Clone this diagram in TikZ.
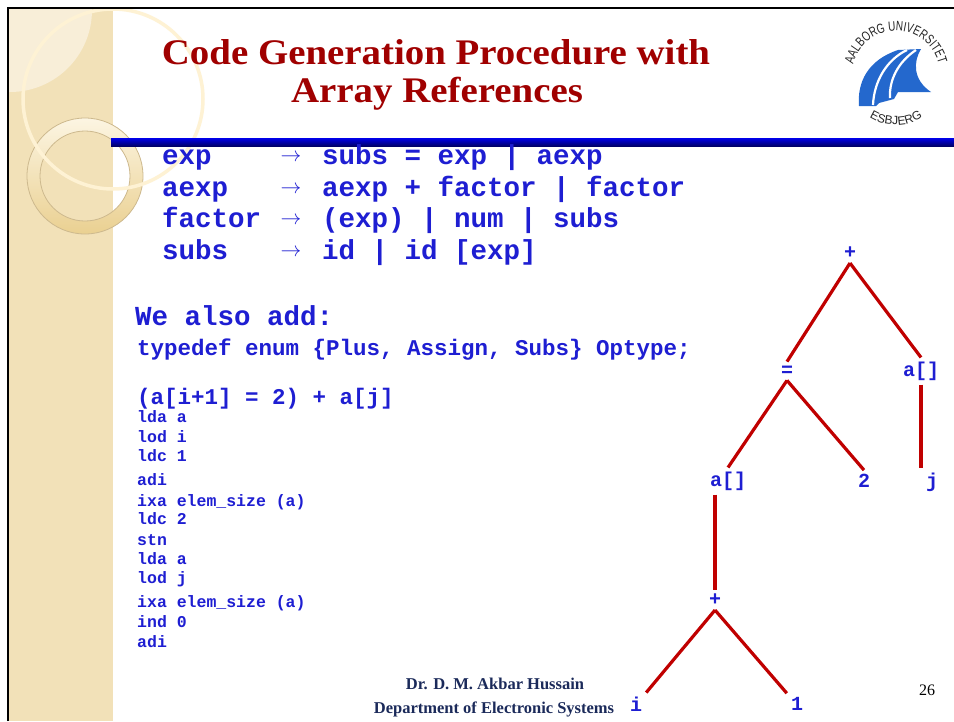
\documentclass[tikz,border=0pt]{standalone}
\usepackage{fontspec}
\setmainfont{Liberation Serif}
\setmonofont{Liberation Mono}
\newfontfamily\logofont[FakeStretch=0.74]{Liberation Sans}
\newfontfamily\logowide{Liberation Sans}
\usetikzlibrary{decorations.text}

\definecolor{codeblue}{RGB}{30,30,210}
\definecolor{treered}{RGB}{192,0,0}
\definecolor{titlered}{RGB}{160,0,0}
\definecolor{footnavy}{RGB}{27,42,90}
\definecolor{striptan}{RGB}{242,225,184}
\definecolor{patchtan}{RGB}{248,238,216}
\definecolor{ringlight}{RGB}{252,245,226}
\definecolor{ringdark}{RGB}{234,208,145}
\definecolor{ringedge}{RGB}{205,185,142}
\definecolor{circlecream}{RGB}{254,242,212}
\definecolor{logoblue}{RGB}{36,104,205}

\tikzset{
  grammar/.style={font=\ttfamily\bfseries\fontsize{27.5}{27.5}\selectfont, text=codeblue, anchor=base west, inner sep=0pt},
  arrowsym/.style={font=\fontsize{20}{20}\selectfont, text=codeblue, inner sep=0pt},
  midcode/.style={font=\ttfamily\bfseries\fontsize{22.5}{22.5}\selectfont, text=codeblue, anchor=base west, inner sep=0pt},
  smallcode/.style={font=\ttfamily\bfseries\fontsize{16.5}{16.5}\selectfont, text=codeblue, anchor=base west, inner sep=0pt},
  treelab/.style={font=\ttfamily\bfseries\fontsize{20}{20}\selectfont, text=codeblue, inner sep=4pt},
  treeline/.style={draw=treered, line width=3.2pt},
  titletext/.style={font=\bfseries\fontsize{36}{36}\selectfont, text=titlered},
  foottext/.style={font=\bfseries\fontsize{16.5}{16.5}\selectfont, text=footnavy},
}

\begin{document}
\begin{tikzpicture}[x=1pt, y=-1pt]
\useasboundingbox (0,0) rectangle (954,721);
\fill[white] (0,0) rectangle (954,721);

% left decorative strip
\fill[striptan] (9,9) rectangle (113,721);
\begin{scope}
  \clip (9,9) rectangle (113,721);
  \fill[patchtan] (10,10) circle (82);
\end{scope}

% ring
\shade[even odd rule, shading angle=45, top color=ringlight, bottom color=ringdark]
  (85,176) circle (58) (85,176) circle (45);
\draw[ringedge, line width=0.8pt] (85,176) circle (58);
\draw[ringedge, line width=0.8pt] (85,176) circle (45);

% large pale circle
\draw[circlecream, line width=3.5pt] (113,99) circle (90);

% frame
\draw[black, line width=2.6pt] (8,721) -- (8,8) -- (954,8);

% rule under the title
\shade[top color={rgb,255:red,0;green,0;blue,235}, bottom color={rgb,255:red,0;green,0;blue,105}]
  (111,138) rectangle (954,146);

% title
\node[titletext] (title1) at (436,52) {\scalebox{1.08}[1]{Code Generation Procedure with}};
\node[titletext] (title2) at (437,94) {\scalebox{1.08}[1]{Array References}};

% university logo
\begin{scope}[shift={(896,75)}, yscale=-1]
  \path[decorate, decoration={text along path, text align=center,
        text={|\logofont\fontsize{13.5}{13.5}\selectfont\color{black!85}|AALBORG UNIVERSITET}}]
    (170:44) arc (170:10:44);
  \path[decorate, decoration={text along path, text align=center,
        text={|\logowide\fontsize{12}{12}\selectfont\color{black!85}|ESBJERG}}]
    (232:50) arc (232:308:50);
\end{scope}
\fill[logoblue] (859,106) .. controls (857,82) and (868,60) .. (898,50)
  -- (921,49) .. controls (913,62) and (913,80) .. (931,92)
  -- (898,92) -- (894,99) -- (879,103) -- (876,106) -- cycle;
\draw[white, line width=2.2pt] (907,50) .. controls (886,60) and (874,82) .. (873,105);
\draw[white, line width=2.2pt] (916,50) .. controls (898,62) and (889,80) .. (890,98);

% grammar
\node[grammar] (g1l) at (162,164.3) {exp};
\node[grammar] (g2l) at (162,196.3) {aexp};
\node[grammar] (g3l) at (162,227.3) {factor};
\node[grammar] (g4l) at (162,259.3) {subs};
\node[arrowsym] (g1a) at (291,158) {$\rightarrow$};
\node[arrowsym] (g2a) at (291,190) {$\rightarrow$};
\node[arrowsym] (g3a) at (291,221) {$\rightarrow$};
\node[arrowsym] (g4a) at (291,253) {$\rightarrow$};
\node[grammar] (g1r) at (322,164.3) {subs = exp | aexp};
\node[grammar] (g2r) at (322,196.3) {aexp + factor | factor};
\node[grammar] (g3r) at (322,227.3) {(exp) | num | subs};
\node[grammar] (g4r) at (322,259.3) {id | id [exp]};

% additions
\node[grammar] (add) at (135,325.3) {We also add:};
\node[midcode] (tdef) at (137,355) {typedef enum \{Plus, Assign, Subs\} Optype;};
\node[midcode] (expr) at (137,404) {(a[i+1] = 2) + a[j]};

% generated code
\node[smallcode] (c1) at (137,422.4) {lda a};
\node[smallcode] (c2) at (137,442.4) {lod i};
\node[smallcode] (c3) at (137,461.4) {ldc 1};
\node[smallcode] (c4) at (137,485.4) {adi};
\node[smallcode] (c5) at (137,506.4) {ixa elem\_size (a)};
\node[smallcode] (c6) at (137,524.4) {ldc 2};
\node[smallcode] (c7) at (137,545.4) {stn};
\node[smallcode] (c8) at (137,564.4) {lda a};
\node[smallcode] (c9) at (137,583.4) {lod j};
\node[smallcode] (c10) at (137,607.4) {ixa elem\_size (a)};
\node[smallcode] (c11) at (137,627.4) {ind 0};
\node[smallcode] (c12) at (137,647.4) {adi};

% syntax tree
\node[treelab] (p1) at (850,253) {+};
\node[treelab] (eq) at (787,371) {=};
\node[treelab] (ar) at (921,371) {a[]};
\node[treelab] (al) at (728,481) {a[]};
\node[treelab] (two) at (864,481) {2};
\node[treelab] (jj) at (932,482) {j};
\node[treelab] (p2) at (715,600) {+};
\node[treelab] (ii) at (636,704) {i};
\node[treelab] (one) at (797,704) {1};

\draw[treeline] (p1.south) -- (eq.north);
\draw[treeline] (p1.south) -- (ar.north);
\draw[treeline] (eq.south) -- (al.north);
\draw[treeline] (eq.south) -- (two.north);
\draw[treeline, line width=4pt] (ar.south) -- (ar.south |- jj.north);
\draw[treeline, line width=4pt] (p2.north |- al.south) -- (p2.north);
\draw[treeline] (p2.south) -- (ii.north east);
\draw[treeline] (p2.south) -- (one.north west);

% footer
\node[foottext] (author) at (495,684) {Dr. D. M. Akbar Hussain};
\node[foottext] (dept) at (494,709) {Department of Electronic Systems};
\node[font=\fontsize{16}{16}\selectfont, text=black] (page) at (927,690) {26};
\end{tikzpicture}
\end{document}
